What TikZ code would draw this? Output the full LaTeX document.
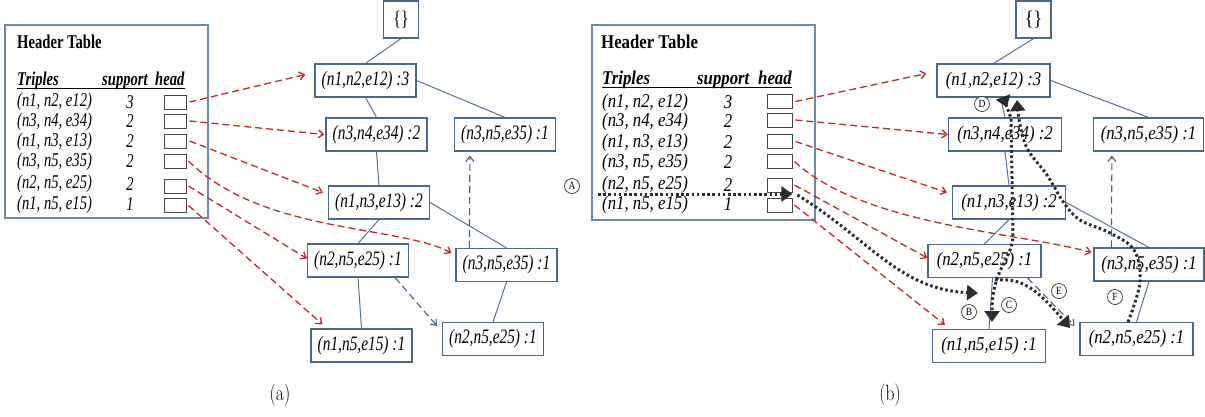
\documentclass[tikz,border=0pt]{standalone}
\usepackage{fontspec}
\setmainfont{Liberation Serif}
\newfontfamily\lfont{Liberation Serif}[FakeStretch=0.75]
\newfontfamily\rfont{Liberation Serif}[FakeStretch=0.86]
\newfontfamily\capfont{Latin Modern Roman}[FakeStretch=0.8]
\usetikzlibrary{arrows.meta,calc}

\definecolor{boxline}{RGB}{74,104,136}
\definecolor{treeline}{RGB}{84,114,150}
\definecolor{tableline}{RGB}{110,138,166}
\definecolor{headline}{RGB}{70,70,70}
\definecolor{linkred}{RGB}{188,42,42}
\definecolor{linkblue}{RGB}{62,96,140}
\definecolor{trail}{RGB}{45,45,45}

\tikzset{
  tnode/.style={draw=boxline, line width=1.2pt, fill=white, inner sep=0pt, minimum height=33pt},
  lnode/.style={tnode, minimum width=101pt, font=\lfont\itshape\fontsize{20.5}{20.5}\selectfont},
  rnode/.style={tnode, minimum width=113pt, font=\rfont\itshape\fontsize{19.5}{19.5}\selectfont},
  rootbox/.style={draw=boxline, line width=1.2pt, fill=white, minimum width=35pt, minimum height=37pt, inner sep=0pt},
  tablebox/.style={draw=tableline, line width=1.1pt, inner sep=0pt},
  headcell/.style={draw=headline, line width=0.9pt, fill=white, minimum height=14pt, inner sep=0pt},
  edge/.style={draw=treeline, line width=1pt},
  redlink/.style={draw=linkred, line width=1.3pt, dash pattern=on 7pt off 4pt, -{Straight Barb[length=5pt,width=8pt]}},
  bluelink/.style={draw=linkblue, line width=1.1pt, dash pattern=on 7pt off 4pt, -{Straight Barb[length=5pt,width=8pt]}},
  trailtip/.tip={Triangle[length=11pt,width=15pt]},
  trailarrow/.style={draw=trail, line width=3pt, dash pattern=on 2.6pt off 2.6pt, -trailtip},
  tag/.style={circle, draw=black!80, line width=0.7pt, fill=white, inner sep=0pt, minimum size=15pt, font=\rfont\fontsize{11}{11}\selectfont},
  ltxt/.style={anchor=west, inner sep=0pt, font=\lfont\itshape\fontsize{19.5}{19.5}\selectfont},
  rtxt/.style={anchor=west, inner sep=0pt, font=\rfont\itshape\fontsize{19.5}{19.5}\selectfont},
  lnum/.style={inner sep=0pt, font=\lfont\itshape\fontsize{19.5}{19.5}\selectfont},
  rnum/.style={inner sep=0pt, font=\rfont\itshape\fontsize{19.5}{19.5}\selectfont},
  lhead/.style={anchor=base west, inner sep=0pt, font=\lfont\bfseries\itshape\fontsize{19.5}{19.5}\selectfont},
  rhead/.style={anchor=base west, inner sep=0pt, font=\rfont\bfseries\itshape\fontsize{19.5}{19.5}\selectfont},
  caption/.style={inner sep=0pt, font=\capfont\fontsize{22}{22}\selectfont}
}

\begin{document}
\begin{tikzpicture}[x=1pt,y=-1pt]
\useasboundingbox (0,0) rectangle (1205,416);

%% ---------------- (a) ----------------
% header table
\node[tablebox, minimum width=203pt, minimum height=193pt] (tabL) at (106.5,121.5) {};
\node[anchor=west, inner sep=0pt, font=\lfont\bfseries\fontsize{19.5}{19.5}\selectfont] (titleL) at (17,42) {Header Table};
\node[lhead] (trL) at (17,85) {Triples};
\node[lhead] (spL) at (102,85) {support};
\node[lhead] (hdL) at (155,85) {head};
\draw[black, line width=0.9pt] ([yshift=-3.5pt]trL.base west) -- ([yshift=-3.5pt]hdL.base east);

\node[ltxt] (rL1) at (17,102) {(n1, n2, e12)};
\node[ltxt] (rL2) at (17,121.5) {(n3, n4, e34)};
\node[ltxt] (rL3) at (17,141.5) {(n1, n3, e13)};
\node[ltxt] (rL4) at (17,161.5) {(n3, n5, e35)};
\node[ltxt] (rL5) at (17,184) {(n2, n5, e25)};
\node[ltxt] (rL6) at (17,204.5) {(n1, n5, e15)};
\node[lnum] (sL1) at (130,102) {3};
\node[lnum] (sL2) at (130,121.5) {2};
\node[lnum] (sL3) at (130,141.5) {2};
\node[lnum] (sL4) at (130,161.5) {2};
\node[lnum] (sL5) at (130,184) {2};
\node[lnum] (sL6) at (130,204.5) {1};
\node[headcell, minimum width=22pt] (hL1) at (175,102) {};
\node[headcell, minimum width=22pt] (hL2) at (175,121) {};
\node[headcell, minimum width=22pt] (hL3) at (175,141) {};
\node[headcell, minimum width=22pt] (hL4) at (175,161) {};
\node[headcell, minimum width=22pt] (hL5) at (175,186) {};
\node[headcell, minimum width=22pt] (hL6) at (175,205.5) {};

% tree
\node[rootbox, font=\lfont\fontsize{21}{21}\selectfont] (L0) at (401,19.5) {\{\}};
\node[lnode] (L1) at (365.5,80.5) {(n1,n2,e12) :3};
\node[lnode] (L2) at (376.5,134.5) {(n3,n4,e34) :2};
\node[lnode] (L3) at (505,134.5) {(n3,n5,e35) :1};
\node[lnode] (L4) at (379,202.5) {(n1,n3,e13) :2};
\node[lnode] (L5) at (358,260.5) {(n2,n5,e25) :1};
\node[lnode] (L6) at (506.5,265) {(n3,n5,e35) :1};
\node[lnode] (L7) at (361.5,345.5) {(n1,n5,e15) :1};
\node[lnode] (L8) at (493,339) {(n2,n5,e25) :1};

\draw[edge] (L0.south) -- (L1.north);
\draw[edge] (L1.east) -- (L3.north);
\draw[edge] (L1.south) -- (L2.north);
\draw[edge] (L2.south) -- (L4.north);
\draw[edge] (L4.south) -- (L5.north);
\draw[edge] (L4.east) -- (L6.north);
\draw[edge] (L5.south) -- (L7.north);
\draw[edge] (L6.south) -- (L8.north);

\draw[bluelink] ([xshift=14pt]L6.north west) -- ([xshift=16pt,yshift=-4pt]L3.south west);
\draw[bluelink] ([xshift=-14pt]L5.south east) -- ([xshift=-5pt,yshift=-4pt]L8.north west);

\draw[redlink] ([xshift=3pt]hL1.east) -- ([xshift=-9pt,yshift=6pt]L1.west);
\draw[redlink] ([xshift=3pt]hL2.east) -- ([xshift=-1pt]L2.west);
\draw[redlink] ([xshift=3pt]hL3.east) -- ([xshift=-5pt,yshift=10pt]L4.west);
\draw[redlink] ([xshift=2pt]hL4.east) .. controls +(74,73) and +(-52,-28) .. ([xshift=-4pt,yshift=12pt]L6.west);
\draw[redlink] ([xshift=2pt]hL5.east) -- ([yshift=2pt]L5.west);
\draw[redlink] ([xshift=2pt]hL6.east) -- ([xshift=12pt,yshift=4pt]L7.north west);

\node[caption] (capA) at (280,395) {(a)};

%% ---------------- (b) ----------------
\node[tablebox, minimum width=223pt, minimum height=195pt] (tabR) at (703.5,122.5) {};
\node[anchor=west, inner sep=0pt, font=\rfont\bfseries\fontsize{19.5}{19.5}\selectfont] (titleR) at (601,42) {Header Table};
\node[rhead] (trR) at (602,84) {Triples};
\node[rhead] (spR) at (697,84) {support};
\node[rhead] (hdR) at (758,84) {head};
\draw[black, line width=0.9pt] ([yshift=-3.5pt]trR.base west) -- ([yshift=-3.5pt]hdR.base east);

\node[rtxt] (rR1) at (602,102.5) {(n1, n2, e12)};
\node[rtxt] (rR2) at (602,121.5) {(n3, n4, e34)};
\node[rtxt] (rR3) at (602,142.5) {(n1, n3, e13)};
\node[rtxt] (rR4) at (602,162.5) {(n3, n5, e35)};
\node[rtxt] (rR5) at (602,185) {(n2, n5, e25)};
\node[rtxt] (rR6) at (602,204.5) {(n1, n5, e15)};
\node[rnum] (sR1) at (728,102.5) {3};
\node[rnum] (sR2) at (728,121.5) {2};
\node[rnum] (sR3) at (728,142.5) {2};
\node[rnum] (sR4) at (728,162.5) {2};
\node[rnum] (sR5) at (728,185) {2};
\node[rnum] (sR6) at (728,204.5) {1};
\node[headcell, minimum width=25pt] (hR1) at (779.5,101.5) {};
\node[headcell, minimum width=25pt] (hR2) at (779.5,120) {};
\node[headcell, minimum width=25pt] (hR3) at (779.5,141.5) {};
\node[headcell, minimum width=25pt] (hR4) at (779.5,161.5) {};
\node[headcell, minimum width=25pt] (hR5) at (779.5,185) {};
\node[headcell, minimum width=25pt] (hR6) at (779.5,205) {};

\node[rootbox, font=\rfont\fontsize{21}{21}\selectfont] (R0) at (1033.5,19.5) {\{\}};
\node[rnode] (R1) at (993.5,80.5) {(n1,n2,e12) :3};
\node[rnode] (R2) at (1005,134.5) {(n3,n4,e34) :2};
\node[rnode, minimum width=110pt] (R3) at (1148.5,134.5) {(n3,n5,e35) :1};
\node[rnode] (R4) at (1009,202.5) {(n1,n3,e13) :2};
\node[rnode] (R5) at (984.5,261) {(n2,n5,e25) :1};
\node[rnode, minimum width=110pt] (R6) at (1149,264.5) {(n3,n5,e35) :1};
\node[rnode] (R7) at (989,346) {(n1,n5,e15) :1};
\node[rnode] (R8) at (1136.5,339) {(n2,n5,e25) :1};

\draw[edge] (R0.south) -- (R1.north);
\draw[edge] (R1.east) -- (R3.north);
\draw[edge] ([xshift=7pt]R1.south) -- (R2.north);
\draw[edge] (R2.south) -- (R4.north);
\draw[edge] (R4.south) -- (R5.north);
\draw[edge] (R4.east) -- (R6.north);
\draw[edge] ([xshift=8pt]R5.south) -- (R7.north);
\draw[edge] (R6.south) -- (R8.north);

\draw[bluelink] ([xshift=18pt]R6.north west) -- ([xshift=19pt,yshift=-4pt]R3.south west);
\draw[bluelink] ([xshift=-14pt]R5.south east) -- ([xshift=-5pt,yshift=-4pt]R8.north west);

\draw[redlink] ([xshift=3pt]hR1.east) -- ([xshift=-10pt,yshift=7pt]R1.west);
\draw[redlink] ([xshift=3pt]hR2.east) -- (R2.west);
\draw[redlink] ([xshift=3pt]hR3.east) -- ([xshift=-5pt,yshift=10pt]R4.west);
\draw[redlink] ([xshift=2pt]hR4.east) .. controls +(69,64) and +(-72,-20) .. ([xshift=-2pt,yshift=12pt]R6.west);
\draw[redlink] ([xshift=2pt]hR5.east) -- ([yshift=3pt]R5.west);
\draw[redlink] ([xshift=2pt]hR6.east) -- ([xshift=13pt,yshift=4pt]R7.north west);

% traversal trails
\coordinate (aS) at (598,194);
\draw[trailarrow] (aS) -- ([yshift=-9pt]hR5.east);
\draw[trailarrow] ([xshift=5pt,yshift=-10pt]hR5.east) .. controls (870,240) and (900,290) .. (978,293);
\draw[trailarrow, {Triangle[reversed,length=11pt,width=15pt]}-trailtip]
  (1003,97) -- (1011,118) -- (1013,238) .. controls (1010,262) and (992,270) .. (992,322);
\draw[trailarrow] (995,280) .. controls (1022,278) and (1035,287) .. (1070,328);
\draw[trailarrow] plot[smooth, tension=0.6] coordinates {(1128,322) (1140,282) (1134,250) (1110,233) (1080,220) (1064,203) (1047,175) (1028,150) (1020,125) (1017,100)};

\node[tag] (tA) at (572,186) {A};
\node[tag] (tB) at (969,312) {B};
\node[tag] (tC) at (1009,305) {C};
\node[tag] (tD) at (982,104) {D};
\node[tag] (tE) at (1059,291) {E};
\node[tag] (tF) at (1115,297) {F};

\node[caption] (capB) at (890,395) {(b)};
\end{tikzpicture}
\end{document}
